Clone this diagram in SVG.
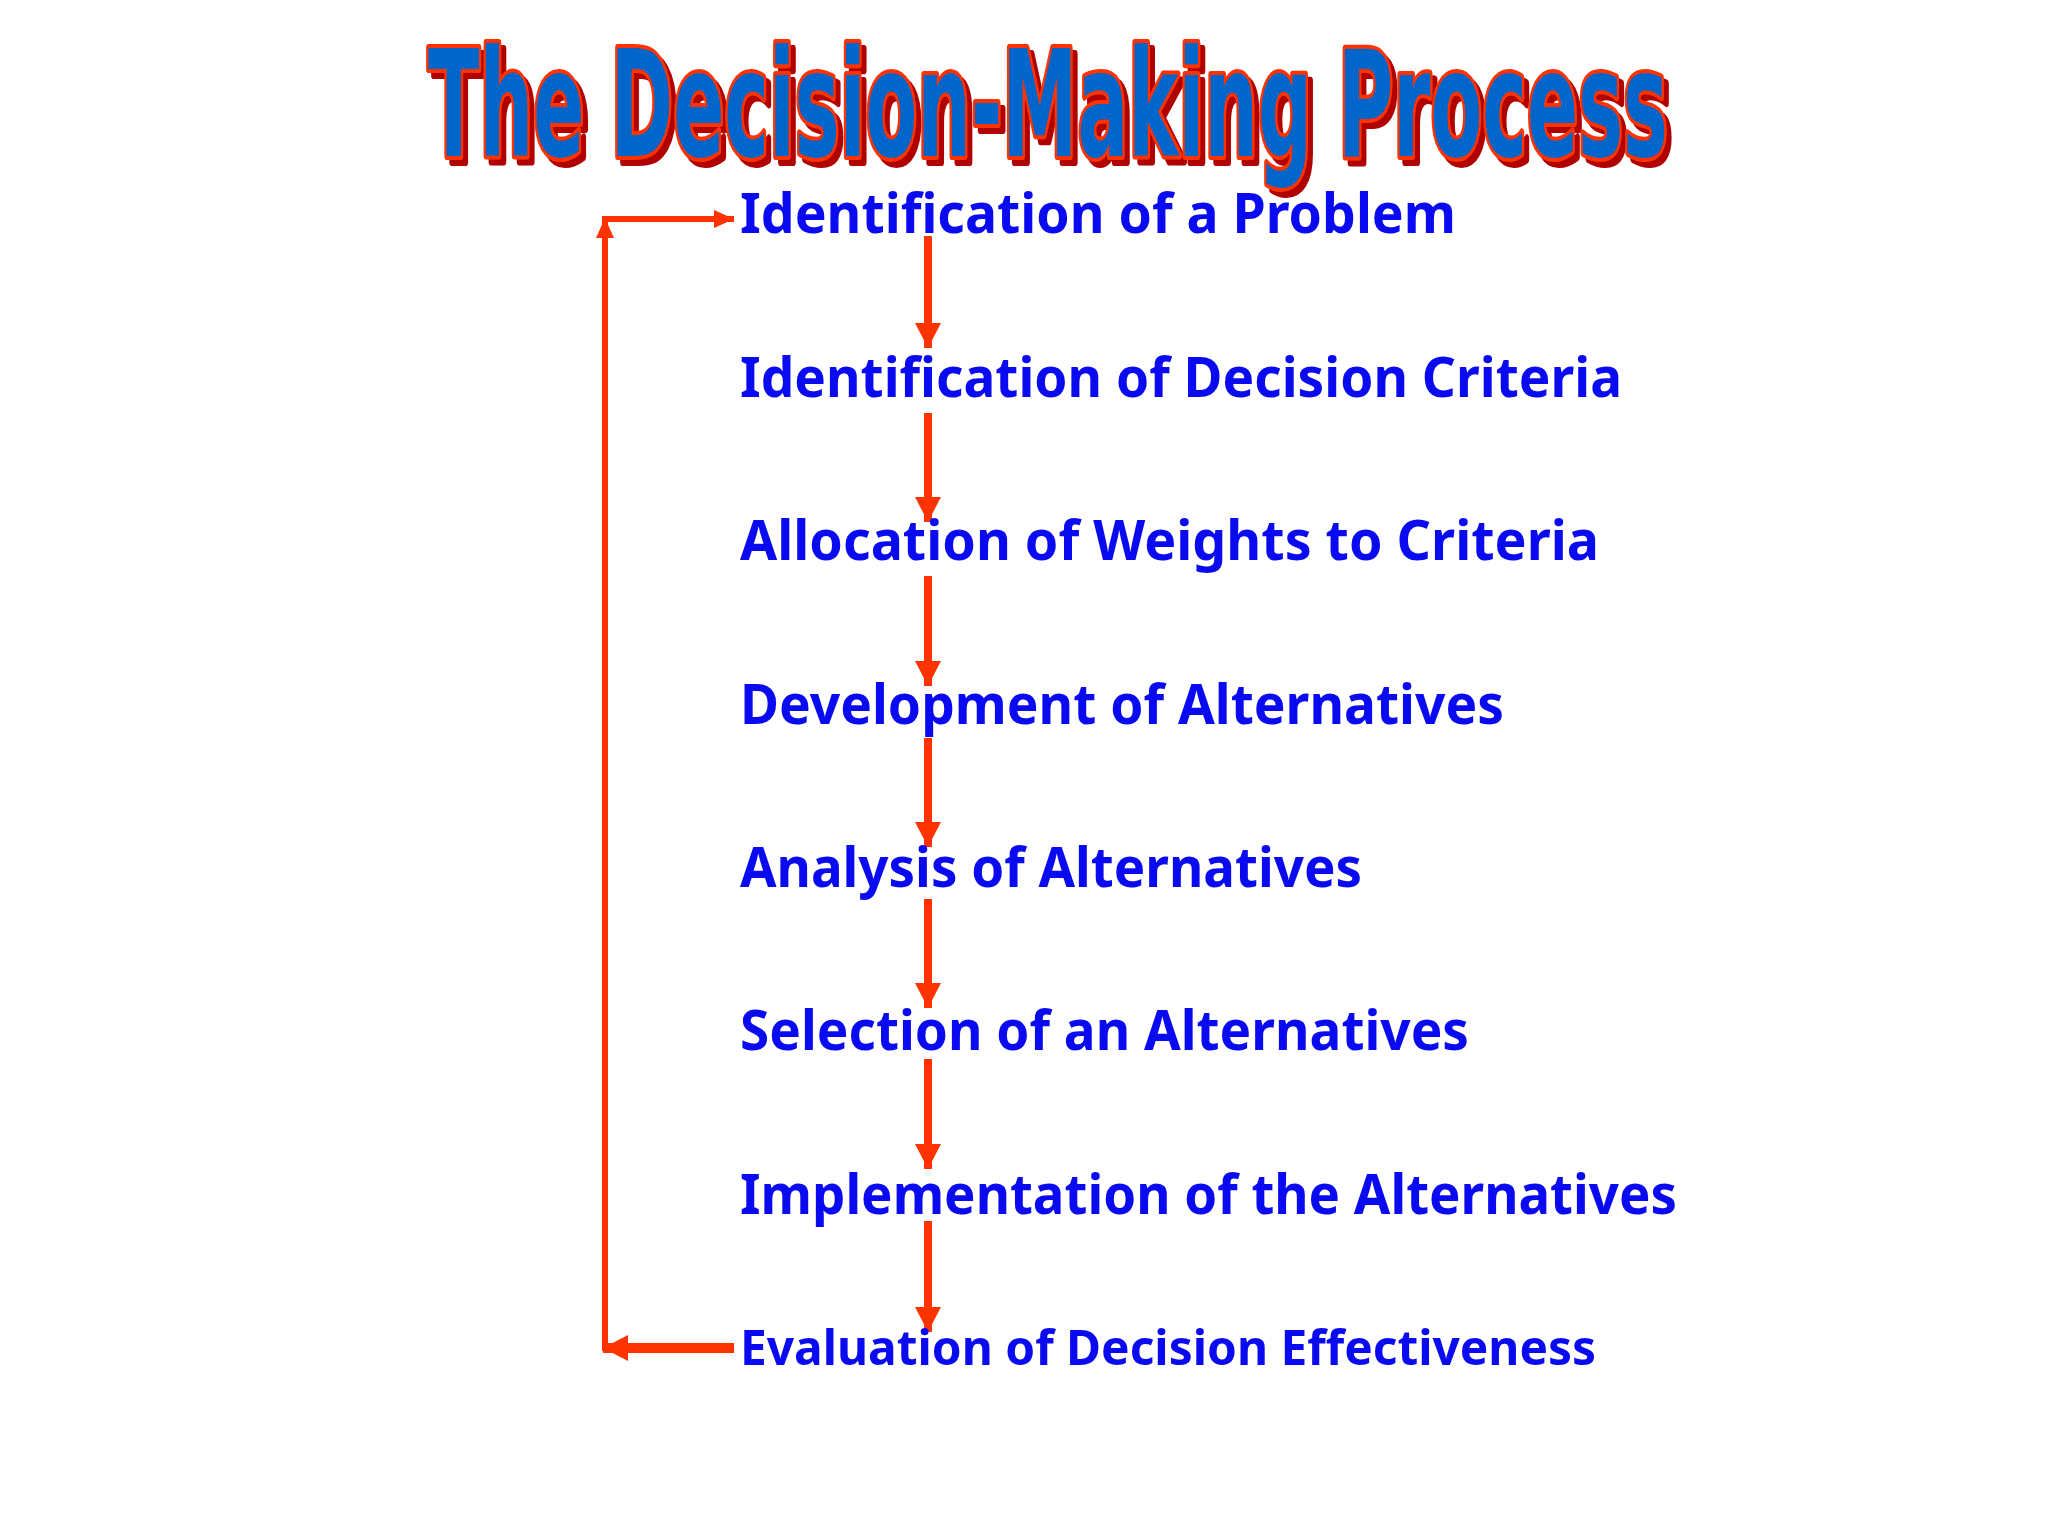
<svg xmlns="http://www.w3.org/2000/svg" width="2048" height="1536" viewBox="0 0 2048 1536">
<style>
.title{font-family:"Liberation Sans Narrow","DejaVu Sans Condensed","DejaVu Sans",sans-serif;font-weight:bold;font-size:148px;fill:#0066CC;stroke:#FF3300;stroke-width:8;stroke-linejoin:round;paint-order:stroke}
.step{font-family:"Noto Sans","Open Sans",sans-serif;font-weight:bold;font-size:56px;fill:#0A0AF0}
.step.small{font-size:49px}
.flow{stroke:#FF3300;stroke-width:8;fill:none}
.loop{stroke:#FF3300;stroke-width:6;fill:none}
</style>
<defs>
<filter id="shadow" x="-5%" y="-20%" width="110%" height="150%">
<feOffset in="SourceAlpha" dx="5" dy="6" result="off"/>
<feFlood flood-color="#B00000"/>
<feComposite in2="off" operator="in" result="sh"/>
<feMerge><feMergeNode in="sh"/><feMergeNode in="SourceGraphic"/></feMerge>
</filter>
<marker id="ah" markerUnits="userSpaceOnUse" markerWidth="26" markerHeight="26" refX="25" refY="13" orient="auto">
<path d="M0,0 L25,13 L0,26 Z" fill="#FF3300"/>
</marker>
<marker id="ahs" markerUnits="userSpaceOnUse" markerWidth="20" markerHeight="20" refX="20" refY="9" orient="auto">
<path d="M0,0 L20,9 L0,18 Z" fill="#FF3300"/>
</marker>
</defs>
<rect width="2048" height="1536" fill="#FFFFFF"/>
<g id="title">
<text class="title" x="428" y="156" textLength="1240" lengthAdjust="spacingAndGlyphs" filter="url(#shadow)">The Decision-Making Process</text>
</g>
<g id="connectors">
<line class="flow" x1="928" y1="236" x2="928" y2="348" marker-end="url(#ah)"/>
<line class="flow" x1="928" y1="413" x2="928" y2="522" marker-end="url(#ah)"/>
<line class="flow" x1="928" y1="576" x2="928" y2="686" marker-end="url(#ah)"/>
<line class="flow" x1="928" y1="738" x2="928" y2="847" marker-end="url(#ah)"/>
<line class="flow" x1="928" y1="899" x2="928" y2="1008" marker-end="url(#ah)"/>
<line class="flow" x1="928" y1="1059" x2="928" y2="1169" marker-end="url(#ah)"/>
<line class="flow" x1="928" y1="1221" x2="928" y2="1332" marker-end="url(#ah)"/>
<line class="loop" x1="605" y1="1351" x2="605" y2="218" marker-end="url(#ahs)"/>
<line class="loop" x1="602" y1="219" x2="734" y2="219" marker-end="url(#ahs)"/>
<line stroke="#FF3300" stroke-width="10" x1="734" y1="1348" x2="603" y2="1348" marker-end="url(#ah)"/>
</g>
<g id="n1"><text class="step" x="740" y="233" textLength="716" lengthAdjust="spacingAndGlyphs">Identification of a Problem</text></g>
<g id="n2"><text class="step" x="740" y="397" textLength="882" lengthAdjust="spacingAndGlyphs">Identification of Decision Criteria</text></g>
<g id="n3"><text class="step" x="740" y="560" textLength="859" lengthAdjust="spacingAndGlyphs">Allocation of Weights to Criteria</text></g>
<g id="n4"><text class="step" x="740" y="724" textLength="764" lengthAdjust="spacingAndGlyphs">Development of Alternatives</text></g>
<g id="n5"><text class="step" x="740" y="887" textLength="622" lengthAdjust="spacingAndGlyphs">Analysis of Alternatives</text></g>
<g id="n6"><text class="step" x="740" y="1050" textLength="729" lengthAdjust="spacingAndGlyphs">Selection of an Alternatives</text></g>
<g id="n7"><text class="step" x="740" y="1214" textLength="937" lengthAdjust="spacingAndGlyphs">Implementation of the Alternatives</text></g>
<g id="n8"><text class="step small" x="740" y="1365" textLength="856" lengthAdjust="spacingAndGlyphs">Evaluation of Decision Effectiveness</text></g>
</svg>
